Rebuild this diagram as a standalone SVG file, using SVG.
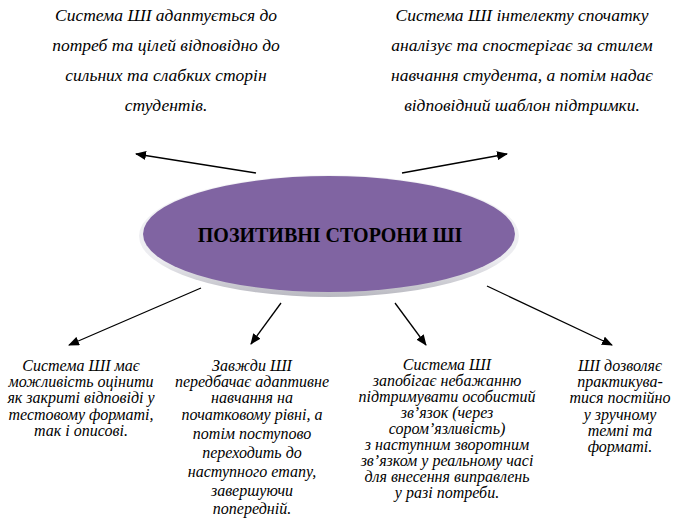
<svg xmlns="http://www.w3.org/2000/svg" width="673" height="520" viewBox="0 0 673 520">
<style>
.t{font-family:'Liberation Serif','Times New Roman',serif;font-style:italic;font-size:16px;fill:#000;text-anchor:middle}
.tt{font-size:17.5px}
.h{font-family:'Liberation Serif','Times New Roman',serif;font-weight:bold;font-size:20px;fill:#000;text-anchor:middle}
.c{stroke:#000;stroke-width:1.3;fill:none;marker-end:url(#ah)}
</style>
<defs>
<marker id="ah" viewBox="0 0 11 9" refX="10" refY="4.5" markerWidth="11" markerHeight="9" markerUnits="userSpaceOnUse" orient="auto">
<path d="M0,0 L11,4.5 L0,9 Z" fill="#000"/>
</marker>
<linearGradient id="rim" x1="0" y1="0" x2="0" y2="1">
<stop offset="0" stop-color="#f4f4f6"/>
<stop offset="0.7" stop-color="#ececf0"/>
<stop offset="1" stop-color="#b8b8c0"/>
</linearGradient>
</defs>
<rect width="673" height="520" fill="#fff"/>
<g id="center">
<ellipse cx="329" cy="236" rx="190" ry="61" fill="url(#rim)"/>
<ellipse cx="329" cy="234" rx="186" ry="58" fill="#8064a2"/>
<text class="h" x="330" y="242">ПОЗИТИВНІ СТОРОНИ ШІ</text>
</g>
<g id="connectors">
<line class="c" x1="256" y1="173" x2="136" y2="154"/>
<line class="c" x1="402" y1="173" x2="507" y2="154"/>
<line class="c" x1="201" y1="288" x2="69" y2="345"/>
<line class="c" x1="281" y1="303" x2="251" y2="344"/>
<line class="c" x1="395" y1="303" x2="426" y2="345"/>
<line class="c" x1="487" y1="286" x2="612" y2="345"/>
</g>
<g id="top-left">
<text class="t tt" x="166" y="21">Система ШІ адаптується  до</text>
<text class="t tt" x="166" y="51">потреб та цілей відповідно  до</text>
<text class="t tt" x="166" y="81">сильних та слабких сторін</text>
<text class="t tt" x="166" y="111">студентів.</text>
</g>
<g id="top-right">
<text class="t tt" x="522" y="21">Система ШІ інтелекту спочатку</text>
<text class="t tt" x="522" y="51">аналізує та спостерігає за стилем</text>
<text class="t tt" x="522" y="81">навчання студента, а потім надає</text>
<text class="t tt" x="522" y="111">відповідний шаблон підтримки.</text>
</g>
<g id="bottom-1">
<text class="t" x="81" y="371">Система ШІ має</text>
<text class="t" x="81" y="387">можливість оцінити</text>
<text class="t" x="81" y="403">як закриті відповіді у</text>
<text class="t" x="81" y="420">тестовому форматі,</text>
<text class="t" x="81" y="436">так і описові.</text>
</g>
<g id="bottom-2">
<text class="t" x="252" y="371">Завжди ШІ</text>
<text class="t" x="252" y="387">передбачає адаптивне</text>
<text class="t" x="252" y="403">навчання на</text>
<text class="t" x="252" y="420">початковому рівні, а</text>
<text class="t" x="252" y="439">потім поступово</text>
<text class="t" x="252" y="458">переходить до</text>
<text class="t" x="252" y="477">наступного етапу,</text>
<text class="t" x="252" y="496">завершуючи</text>
<text class="t" x="252" y="514">попередній.</text>
</g>
<g id="bottom-3">
<text class="t" x="447" y="370">Система ШІ</text>
<text class="t" x="447" y="386">запобігає небажанню</text>
<text class="t" x="447" y="402">підтримувати особистий</text>
<text class="t" x="447" y="418">зв’язок (через</text>
<text class="t" x="447" y="434">сором’язливість)</text>
<text class="t" x="447" y="450">з наступним зворотним</text>
<text class="t" x="447" y="466">зв’язком у реальному часі</text>
<text class="t" x="447" y="482">для внесення виправлень</text>
<text class="t" x="447" y="498">у разі потреби.</text>
</g>
<g id="bottom-4">
<text class="t" x="620" y="371">ШІ дозволяє</text>
<text class="t" x="620" y="387">практикува-</text>
<text class="t" x="620" y="403">тися постійно</text>
<text class="t" x="620" y="420">у зручному</text>
<text class="t" x="620" y="436">темпі та</text>
<text class="t" x="620" y="452">форматі.</text>
</g>
</svg>
